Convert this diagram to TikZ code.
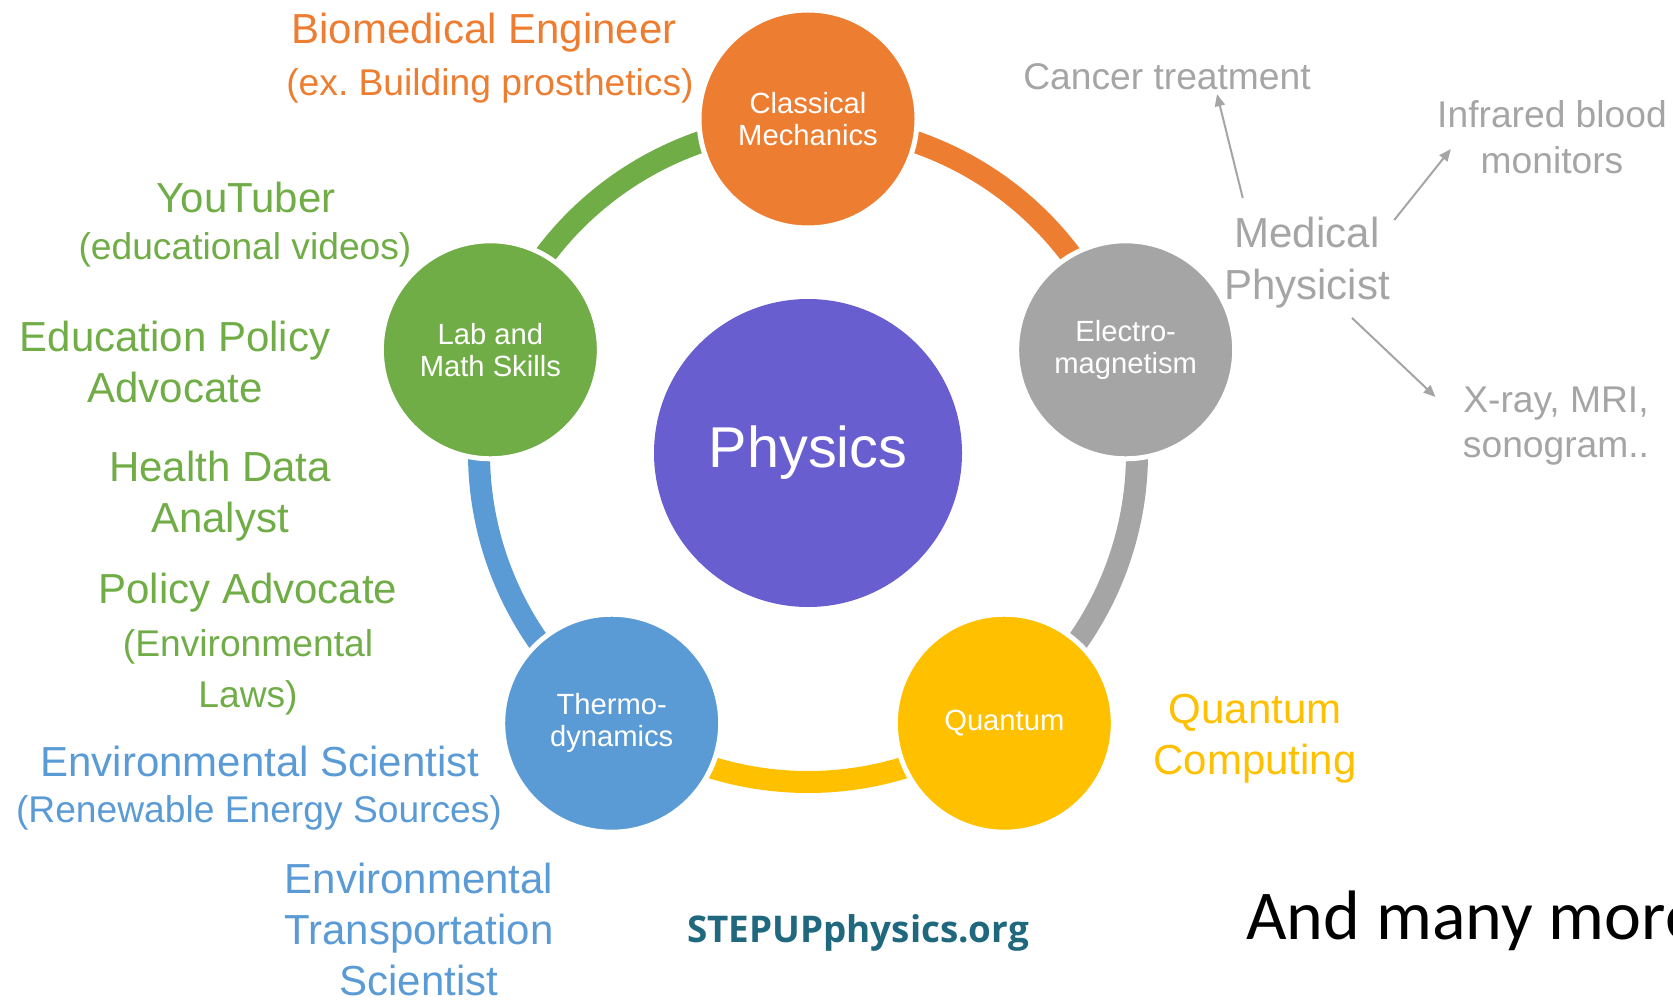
\documentclass[tikz,border=0pt]{standalone}
\usepackage{fontspec}
\setmainfont{Liberation Sans}
\newfontfamily\webfont{Open Sans}
\newfontfamily\calfont{Carlito}
\usetikzlibrary{arrows.meta}

\definecolor{orng}{RGB}{237,125,49}
\definecolor{gry}{RGB}{165,165,165}
\definecolor{yllw}{RGB}{255,192,0}
\definecolor{blu}{RGB}{91,155,213}
\definecolor{grn}{RGB}{112,173,71}
\definecolor{purp}{RGB}{104,94,208}
\definecolor{stepteal}{RGB}{31,104,125}

\def\R{334}
\def\ring{329}

\begin{document}
\begin{tikzpicture}[x=0.5pt,y=-0.5pt,
  field/.style={circle,fill=#1,draw=white,line width=2.5pt,minimum size=109pt,inner sep=0pt,
    text=white,align=center,font=\fontsize{14.6}{16}\selectfont},
  job/.style={text=#1,align=center,inner sep=0pt,anchor=north,font=\fontsize{21}{25.5}\selectfont},
  note/.style={text=#1,align=center,inner sep=0pt,anchor=north,font=\fontsize{18.6}{25.5}\selectfont},
  arr/.style={gry,line width=1pt,-{Triangle[length=6pt,width=5pt]}}]
  \useasboundingbox (0,0) rectangle (1673,1000);

  \coordinate (C) at (808,453);

  % ring
  \foreach \a/\col in {-90/orng,-18/gry,54/yllw,126/blu,198/grn}
    \draw[\col,line width=11pt] (C) ++(\a:\ring) arc[start angle=\a,end angle=\a+72,radius=\ring];

  \node[circle,fill=purp,minimum size=154pt,inner sep=0pt,text=white,
    font=\fontsize{28.8}{30}\selectfont] (phys) at (C) {Physics};

  \node[field=orng] (mech) at ([shift={(-90:\R)}]C) {Classical\\Mechanics};
  \node[field=gry] (em) at ([shift={(-18:\R)}]C) {Electro-\\magnetism};
  \node[field=yllw] (quant) at ([shift={(54:\R)}]C) {Quantum};
  \node[field=blu] (thermo) at ([shift={(126:\R)}]C) {Thermo-\\dynamics};
  \node[field=grn] (lab) at ([shift={(198:\R)}]C) {Lab and\\Math Skills};

  % careers
  \node[job=orng] (bio) at (484,13) {Biomedical Engineer};
  \node[note=orng] (bio2) at (490,68) {(ex.\ Building prosthetics)};
  \node[job=grn] (yt) at (246,182) {YouTuber};
  \node[note=grn] (yt2) at (245,232) {(educational videos)};
  \node[job=grn] (edu) at (175,321) {Education Policy\\Advocate};
  \node[job=grn] (health) at (220,451) {Health Data\\Analyst};
  \node[job=grn] (pol) at (248,573) {Policy Advocate};
  \node[note=grn] (pol2) at (248,629) {(Environmental\\Laws)};
  \node[job=blu] (env) at (260,746) {Environmental Scientist};
  \node[note=blu] (env2) at (259,795) {(Renewable Energy Sources)};
  \node[job=blu] (trans) at (419,863) {Environmental\\Transportation\\Scientist};
  \node[job=yllw] (qc) at (1255,694) {Quantum\\Computing};

  \node[job=gry,font=\fontsize{21}{26}\selectfont] (med) at (1307,217) {Medical\\Physicist};
  \node[note=gry] (cancer) at (1167,63) {Cancer treatment};
  \node[note=gry,font=\fontsize{18.6}{23}\selectfont] (ir) at (1552,100) {Infrared blood\\monitors};
  \node[note=gry,font=\fontsize{18.6}{22.5}\selectfont] (xray) at (1556,387) {X-ray, MRI,\\sonogram..};

  \draw[arr] ([shift={(19,-19)}]med.north west) -- ([shift={(50,4)}]cancer.south);
  \draw[arr] ([shift={(4,3)}]med.north east) -- ([shift={(14,12)}]ir.west);
  \draw[arr] ([shift={(45,9)}]med.south) -- ([shift={(-27,10)}]xray.north west);

  \node[anchor=base,inner sep=0pt,text=stepteal,font=\webfont\bfseries\fontsize{18.4}{22}\selectfont] (web) at (858,942) {STEPUPphysics.org};
  \node[anchor=base west,inner sep=0pt,font=\calfont\fontsize{35}{40}\selectfont] (more) at (1246,939) {And many more};
\end{tikzpicture}
\end{document}
